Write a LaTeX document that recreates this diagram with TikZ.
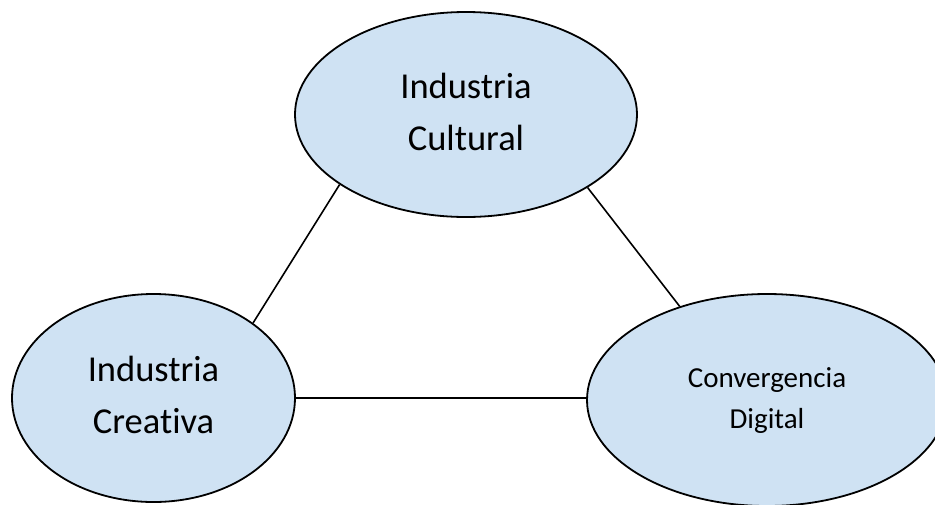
\documentclass[tikz,border=0pt]{standalone}
\usepackage{fontspec}
\setmainfont{Carlito}[Ligatures={NoCommon}]
\usetikzlibrary{shapes.geometric}
\definecolor{ellfill}{RGB}{207,226,243}
\tikzset{
  ell/.style={ellipse, draw=black, line width=1.8pt, fill=ellfill, inner sep=0pt},
  conn/.style={draw=black, line width=1.6pt},
  bigtxt/.style={font=\fontsize{36.5}{52}\selectfont, align=center, text=black},
  smalltxt/.style={font=\fontsize{29}{41}\selectfont, align=center, text=black}
}
\begin{document}
\begin{tikzpicture}[x=1pt,y=-1pt]
\useasboundingbox (0,0) rectangle (935,504);
\clip (0,0) rectangle (935,504);
\node[ell, minimum width=342pt, minimum height=205pt,
  label={[bigtxt, yshift=3pt]center:Industria\\Cultural}] (cult) at (466,114.5) {};
\node[ell, minimum width=283pt, minimum height=208pt,
  label={[bigtxt, yshift=3pt]center:Industria\\Creativa}] (crea) at (153.5,398) {};
\node[ell, minimum width=360pt, minimum height=212pt,
  label={[smalltxt, yshift=-1pt]center:Convergencia\\Digital}] (conv) at (767,400) {};
\draw[conn] (cult.209) -- (crea.37);
\draw[conn] (cult.329) -- (conv.133);
\draw[conn] (crea.east) -- (crea.east -| conv.west);
\end{tikzpicture}
\end{document}
